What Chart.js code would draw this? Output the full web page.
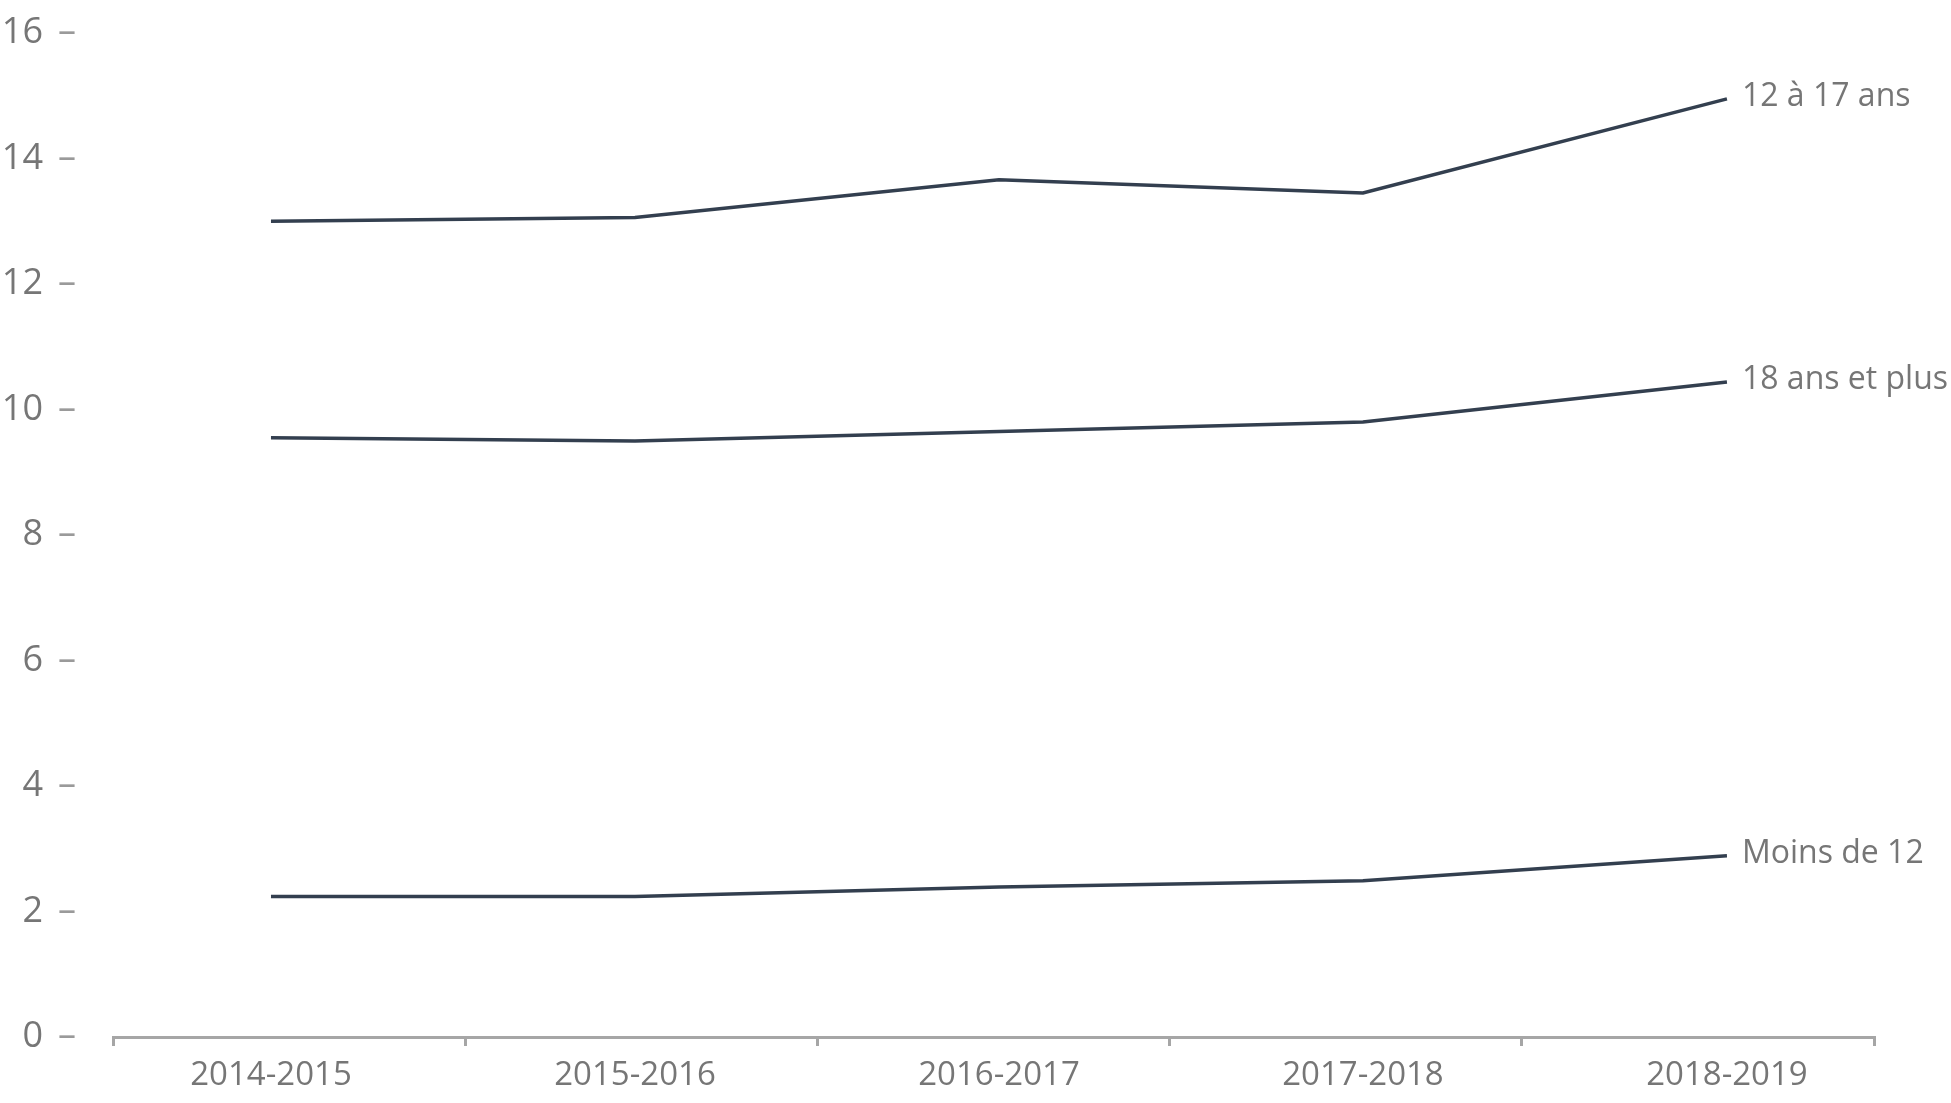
<!DOCTYPE html>
<html lang="fr">
<head>
<meta charset="utf-8">
<title>Taux par groupe d'âge</title>
<script src="https://cdn.jsdelivr.net/npm/chart.js@4/dist/chart.umd.min.js"></script>
<style>
    html, body { margin: 0; padding: 0; background: #ffffff; }
    #wrap { width: 1951px; height: 1103px; position: relative; }
</style>
</head>
<body>
<div id="wrap"><canvas id="age-chart"></canvas></div>
<script>
// categories (années)
const years = ['2014-2015', '2015-2016', '2016-2017', '2017-2018', '2018-2019'];

// valeurs
const ados = [13.0, 13.06, 13.66, 13.45, 14.95];      // 12 à 17 ans
const adultes = [9.55, 9.50, 9.65, 9.80, 10.44];     // 18 ans et plus
const enfants = [2.24, 2.24, 2.39, 2.49, 2.89];      // Moins de 12

const seriesNames = ['12 à 17 ans', '18 ans et plus', 'Moins de 12'];

// axe y
const yMin = 0;
const yMax = 16;
const yStep = 2;

const LINE_COLOR = '#333f4f';
const TEXT_COLOR = '#767676';
const AXIS_COLOR = '#a6a6a6';
const FONT = '"Open Sans", "DejaVu Sans", sans-serif';

// convertit un tableau de valeurs en points {x, y}
function toPoints(values) {
    return values.map((v, i) => ({ x: i, y: v }));
}

function makeDataset(name, values) {
    return {
        label: name,
        data: toPoints(values),
        borderColor: LINE_COLOR,
        borderWidth: 3.5,
        pointRadius: 0,
        tension: 0,
        fill: false
    };
}

// étiquette à droite de chaque courbe
const endLabels = {
    id: 'endLabels',
    afterDatasetsDraw(chart) {
        const ctx = chart.ctx;
        ctx.save();
        ctx.font = '32px ' + FONT;
        ctx.fillStyle = TEXT_COLOR;
        ctx.textAlign = 'left';
        ctx.textBaseline = 'alphabetic';
        chart.data.datasets.forEach((ds, i) => {
            const meta = chart.getDatasetMeta(i);
            const last = meta.data[meta.data.length - 1];
            if (!last) return;
            ctx.fillText(ds.label, last.x + 15, last.y + 7);
        });
        ctx.restore();
    }
};

const ctx = document.getElementById('age-chart');

new Chart(ctx, {
    type: 'line',
    data: {
        datasets: [
            makeDataset(seriesNames[0], ados),
            makeDataset(seriesNames[1], adultes),
            makeDataset(seriesNames[2], enfants)
        ]
    },
    options: {
        responsive: true,
        maintainAspectRatio: false,
        animation: false,
        layout: { padding: { top: 33, right: 77, left: 0, bottom: 0 } },
        plugins: {
            legend: { display: false },
            tooltip: { enabled: false }
        },
        scales: {
            // axe des catégories (positions des points)
            x: {
                type: 'linear',
                position: 'bottom',
                weight: 2,
                min: -0.434,
                max: 4.404,
                grid: { display: false, drawTicks: false },
                border: { display: false },
                afterBuildTicks: (scale) => {
                    scale.ticks = years.map((y, i) => ({ value: i }));
                },
                afterFit: (scale) => { scale.height = 56; },
                ticks: {
                    autoSkip: false,
                    maxRotation: 0,
                    padding: 9,
                    color: TEXT_COLOR,
                    font: { family: FONT, size: 33 },
                    callback: (value) => years[value]
                }
            },
            // ligne d'axe et petites graduations
            xTicks: {
                type: 'linear',
                position: 'bottom',
                weight: 1,
                min: 0,
                max: years.length,
                ticks: { display: false, stepSize: 1 },
                grid: {
                    drawOnChartArea: false,
                    drawTicks: true,
                    tickLength: 9,
                    color: AXIS_COLOR,
                    lineWidth: 3
                },
                border: { display: true, color: AXIS_COLOR, width: 3 },
                afterFit: (scale) => { scale.height = 10; }
            },
            // valeurs de l'axe y
            y: {
                type: 'linear',
                position: 'left',
                weight: 2,
                min: yMin,
                max: yMax,
                grid: { display: false, drawTicks: false },
                border: { display: false },
                afterFit: (scale) => { scale.width = 58; },
                ticks: {
                    stepSize: yStep,
                    padding: 15,
                    color: TEXT_COLOR,
                    font: { family: FONT, size: 36, lineHeight: 1 }
                }
            },
            // tirets à côté des valeurs
            yDash: {
                type: 'linear',
                position: 'left',
                weight: 1,
                min: yMin,
                max: yMax,
                grid: { display: false, drawTicks: false },
                border: { display: false },
                afterFit: (scale) => { scale.width = 55; },
                ticks: {
                    stepSize: yStep,
                    padding: 0,
                    crossAlign: 'far',
                    color: '#9a9a9a',
                    font: { family: FONT, size: 36, lineHeight: 1 },
                    callback: () => '–'
                }
            }
        }
    },
    plugins: [endLabels]
});
</script>
</body>
</html>
